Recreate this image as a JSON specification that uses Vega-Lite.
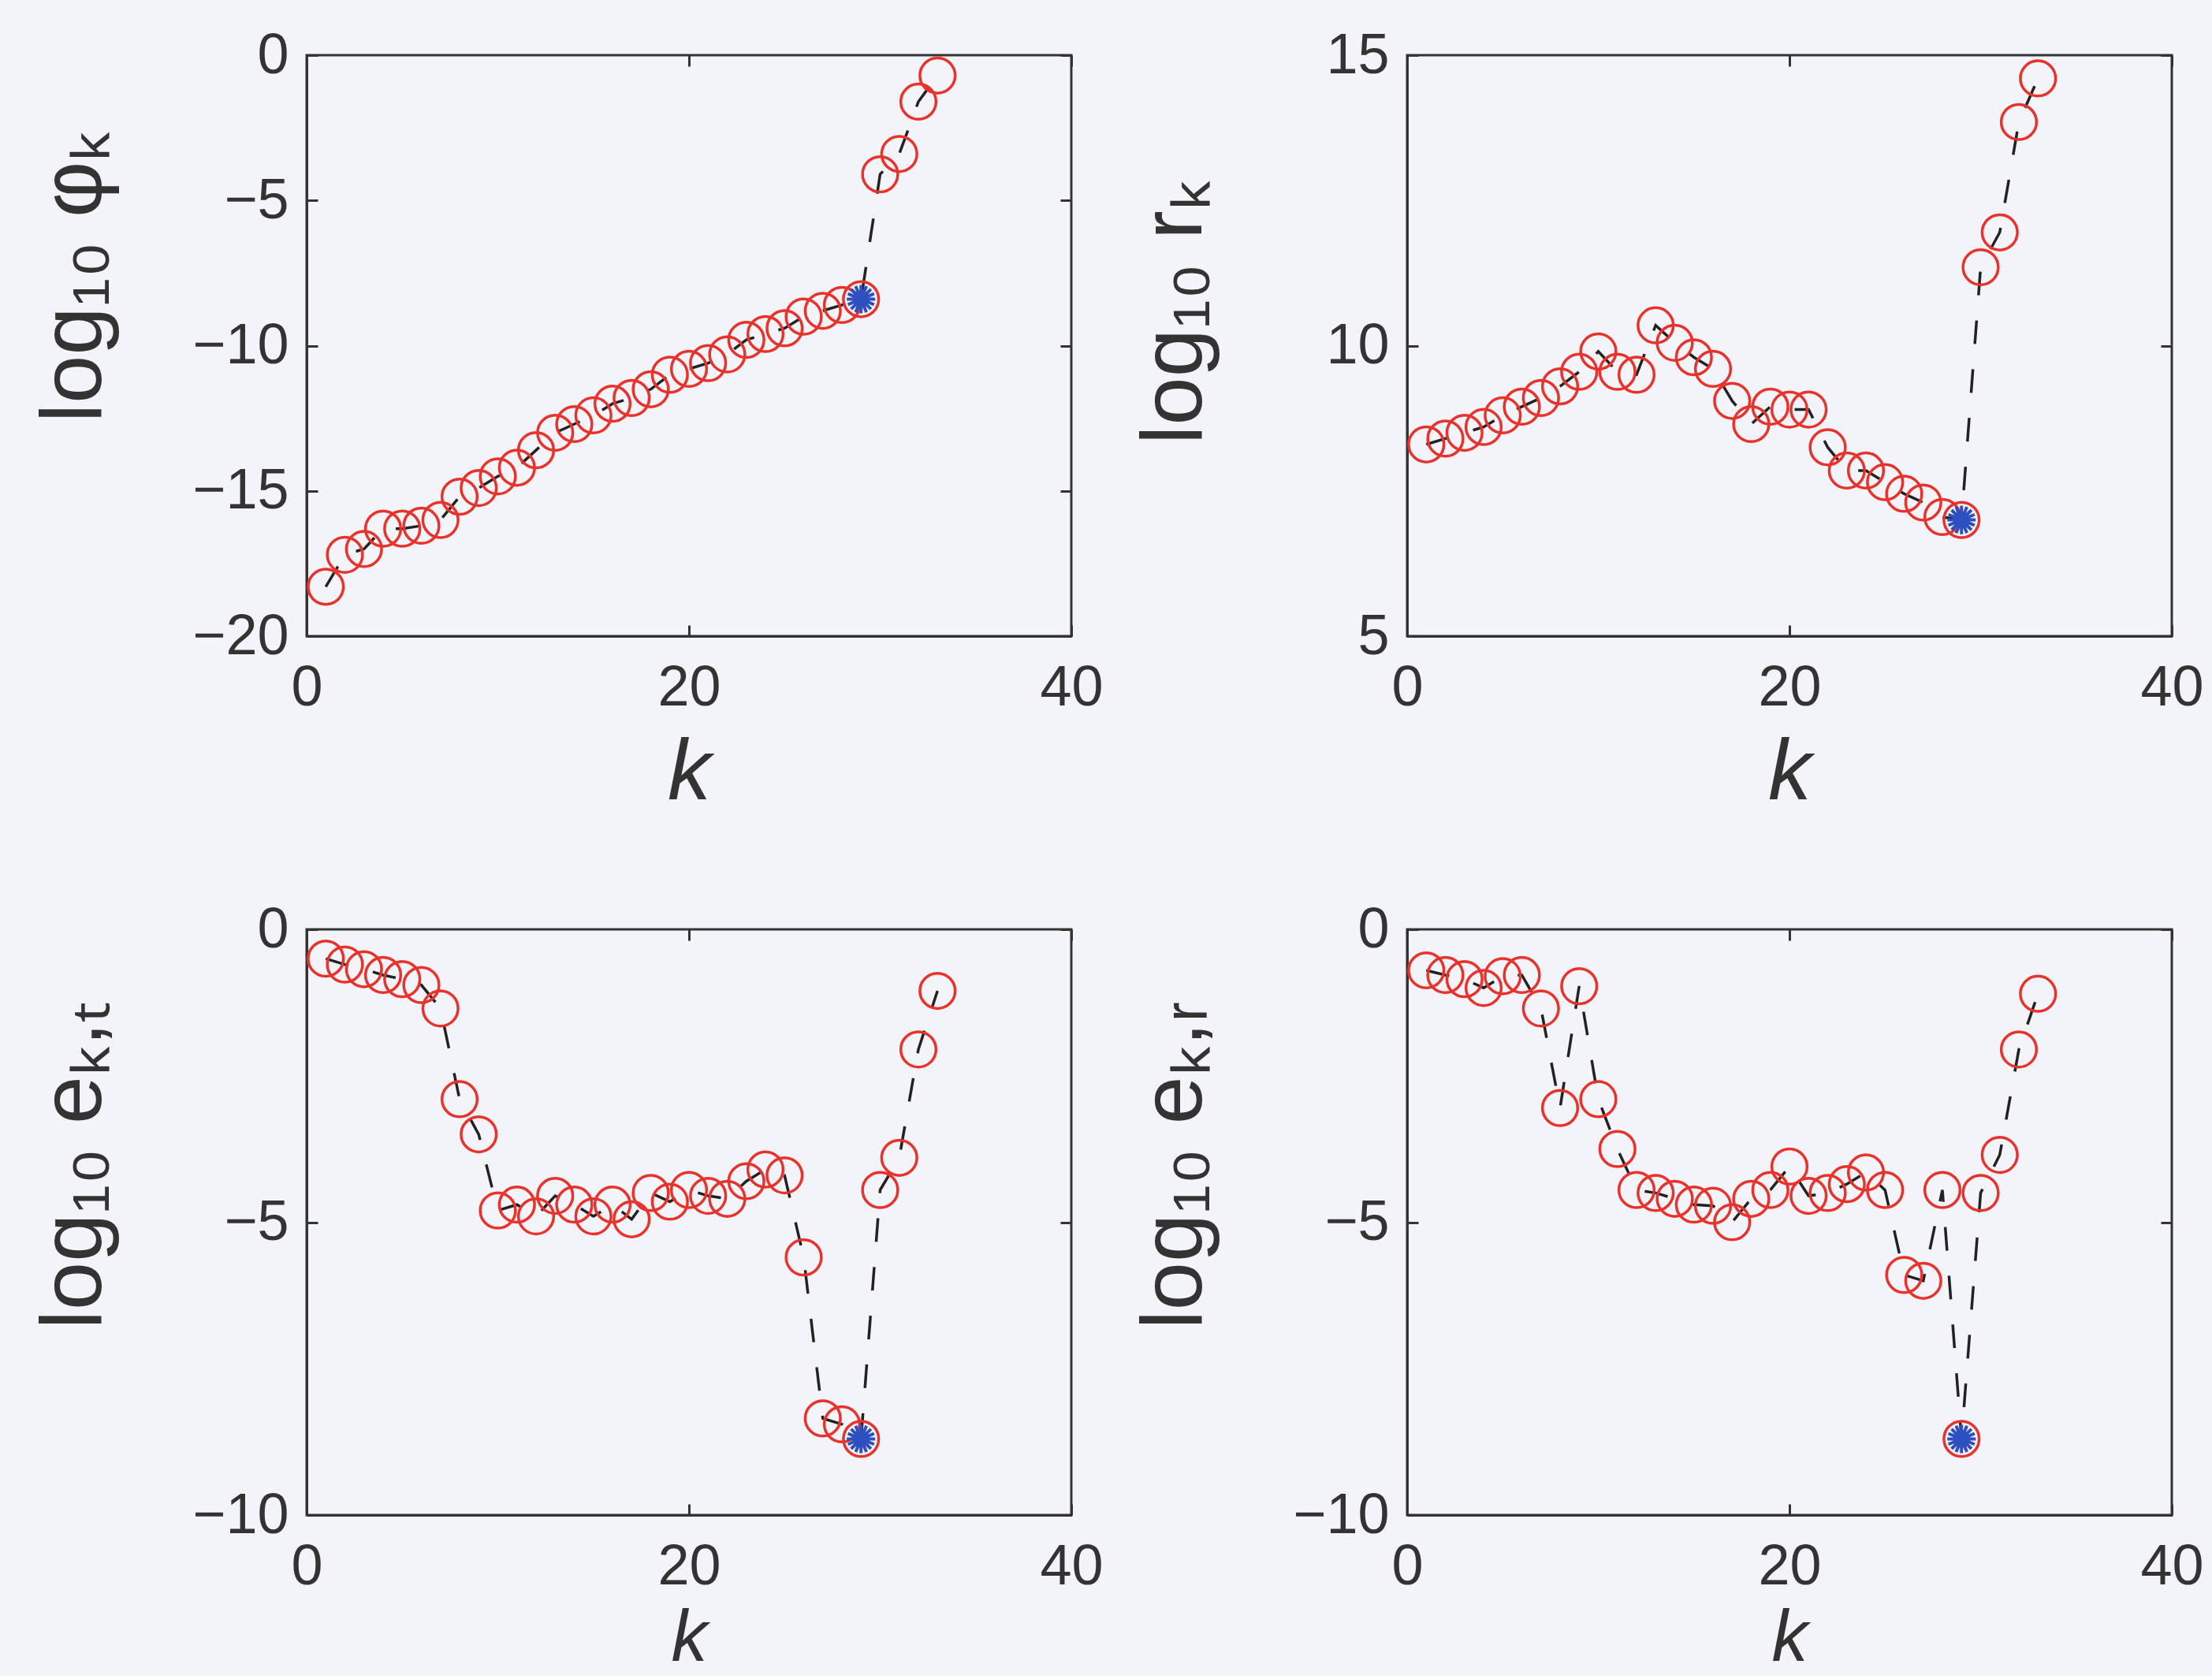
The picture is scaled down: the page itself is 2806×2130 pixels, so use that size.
{
  "$schema": "https://vega.github.io/schema/vega-lite/v6.json",
  "background": "#f3f4fa",
  "padding": {"left": 37, "top": 32, "right": 10, "bottom": 0},
  "datasets": {
    "phi": [
      {"k": 1, "v": -18.3}, {"k": 2, "v": -17.2}, {"k": 3, "v": -17.0}, {"k": 4, "v": -16.3}, {"k": 5, "v": -16.3},
      {"k": 6, "v": -16.2}, {"k": 7, "v": -16.0}, {"k": 8, "v": -15.2}, {"k": 9, "v": -14.9}, {"k": 10, "v": -14.5},
      {"k": 11, "v": -14.2}, {"k": 12, "v": -13.6}, {"k": 13, "v": -13.0}, {"k": 14, "v": -12.7}, {"k": 15, "v": -12.4},
      {"k": 16, "v": -12.0}, {"k": 17, "v": -11.8}, {"k": 18, "v": -11.5}, {"k": 19, "v": -11.0}, {"k": 20, "v": -10.8},
      {"k": 21, "v": -10.6}, {"k": 22, "v": -10.3}, {"k": 23, "v": -9.8}, {"k": 24, "v": -9.6}, {"k": 25, "v": -9.4},
      {"k": 26, "v": -9.0}, {"k": 27, "v": -8.8}, {"k": 28, "v": -8.6}, {"k": 29, "v": -8.4}, {"k": 30, "v": -4.1},
      {"k": 31, "v": -3.4}, {"k": 32, "v": -1.6}, {"k": 33, "v": -0.7}
    ],
    "r": [
      {"k": 1, "v": 8.3}, {"k": 2, "v": 8.4}, {"k": 3, "v": 8.5}, {"k": 4, "v": 8.6}, {"k": 5, "v": 8.8},
      {"k": 6, "v": 8.95}, {"k": 7, "v": 9.1}, {"k": 8, "v": 9.3}, {"k": 9, "v": 9.55}, {"k": 10, "v": 9.9},
      {"k": 11, "v": 9.55}, {"k": 12, "v": 9.5}, {"k": 13, "v": 10.35}, {"k": 14, "v": 10.05}, {"k": 15, "v": 9.8},
      {"k": 16, "v": 9.6}, {"k": 17, "v": 9.05}, {"k": 18, "v": 8.65}, {"k": 19, "v": 8.95}, {"k": 20, "v": 8.9},
      {"k": 21, "v": 8.9}, {"k": 22, "v": 8.25}, {"k": 23, "v": 7.85}, {"k": 24, "v": 7.85}, {"k": 25, "v": 7.65},
      {"k": 26, "v": 7.45}, {"k": 27, "v": 7.3}, {"k": 28, "v": 7.05}, {"k": 29, "v": 7.0}, {"k": 30, "v": 11.35},
      {"k": 31, "v": 11.95}, {"k": 32, "v": 13.85}, {"k": 33, "v": 14.6}
    ],
    "et": [
      {"k": 1, "v": -0.5}, {"k": 2, "v": -0.6}, {"k": 3, "v": -0.68}, {"k": 4, "v": -0.78}, {"k": 5, "v": -0.85},
      {"k": 6, "v": -0.95}, {"k": 7, "v": -1.35}, {"k": 8, "v": -2.9}, {"k": 9, "v": -3.5}, {"k": 10, "v": -4.8},
      {"k": 11, "v": -4.7}, {"k": 12, "v": -4.9}, {"k": 13, "v": -4.55}, {"k": 14, "v": -4.7}, {"k": 15, "v": -4.9},
      {"k": 16, "v": -4.7}, {"k": 17, "v": -4.95}, {"k": 18, "v": -4.5}, {"k": 19, "v": -4.65}, {"k": 20, "v": -4.45},
      {"k": 21, "v": -4.55}, {"k": 22, "v": -4.6}, {"k": 23, "v": -4.3}, {"k": 24, "v": -4.1}, {"k": 25, "v": -4.2},
      {"k": 26, "v": -5.6}, {"k": 27, "v": -8.35}, {"k": 28, "v": -8.45}, {"k": 29, "v": -8.7}, {"k": 30, "v": -4.45},
      {"k": 31, "v": -3.9}, {"k": 32, "v": -2.05}, {"k": 33, "v": -1.05}
    ],
    "er": [
      {"k": 1, "v": -0.7}, {"k": 2, "v": -0.78}, {"k": 3, "v": -0.85}, {"k": 4, "v": -1.0}, {"k": 5, "v": -0.8},
      {"k": 6, "v": -0.78}, {"k": 7, "v": -1.35}, {"k": 8, "v": -3.05}, {"k": 9, "v": -0.97}, {"k": 10, "v": -2.9},
      {"k": 11, "v": -3.75}, {"k": 12, "v": -4.45}, {"k": 13, "v": -4.5}, {"k": 14, "v": -4.6}, {"k": 15, "v": -4.7},
      {"k": 16, "v": -4.72}, {"k": 17, "v": -5.0}, {"k": 18, "v": -4.6}, {"k": 19, "v": -4.45}, {"k": 20, "v": -4.05},
      {"k": 21, "v": -4.55}, {"k": 22, "v": -4.5}, {"k": 23, "v": -4.35}, {"k": 24, "v": -4.15}, {"k": 25, "v": -4.45},
      {"k": 26, "v": -5.9}, {"k": 27, "v": -6.0}, {"k": 28, "v": -4.45}, {"k": 29, "v": -8.7}, {"k": 30, "v": -4.5},
      {"k": 31, "v": -3.85}, {"k": 32, "v": -2.05}, {"k": 33, "v": -1.1}
    ]
  },
  "columns": 2,
  "bounds": "flush",
  "spacing": {"row": 372, "column": 426},
  "concat": [
    {
      "data": {"name": "phi"},
      "width": 970, "height": 737,
      "layer": [
        {"mark": {"type": "line", "stroke": "#222222", "strokeWidth": 3.5, "strokeDash": [30, 32]},
         "encoding": {
           "x": {"field": "k", "type": "quantitative", "scale": {"domain": [0, 40], "nice": false},
                 "axis": {"orient": "bottom", "values": [0, 20, 40], "title": "k", "titleFontStyle": "italic", "titleY": 206, "titleBaseline": "alphabetic"}},
           "y": {"field": "v", "type": "quantitative", "scale": {"domain": [-20, 0], "nice": false, "zero": false},
                 "axis": {"orient": "left", "values": [-20, -15, -10, -5, 0], "title": "log₁₀ φₖ", "titleX": -262, "titleY": 281}}}},
        {"mark": {"type": "point", "shape": "circle", "filled": false, "stroke": "#e8322b", "strokeWidth": 3.5, "size": 2000, "opacity": 1},
         "encoding": {
           "x": {"field": "k", "type": "quantitative", "scale": {"domain": [0, 40], "nice": false},
                 "axis": {"orient": "top", "values": [0, 20, 40], "labels": false, "title": null, "domain": false}},
           "y": {"field": "v", "type": "quantitative", "scale": {"domain": [-20, 0], "nice": false, "zero": false},
                 "axis": {"orient": "right", "values": [-20, -15, -10, -5, 0], "labels": false, "title": null, "domain": false}}}},
        {"transform": [{"filter": "datum.k == 29"}],
         "mark": {"type": "point", "shape": "M-1,0L1,0M0,-1L0,1M-0.7,-0.7L0.7,0.7M-0.7,0.7L0.7,-0.7M-0.92,-0.38L0.92,0.38M-0.92,0.38L0.92,-0.38M-0.38,-0.92L0.38,0.92M-0.38,0.92L0.38,-0.92", "filled": false, "stroke": "#2d4fbf", "strokeWidth": 4, "size": 1300, "opacity": 1},
         "encoding": {
           "x": {"field": "k", "type": "quantitative", "scale": {"domain": [0, 40], "nice": false}, "axis": null},
           "y": {"field": "v", "type": "quantitative", "scale": {"domain": [-20, 0], "nice": false, "zero": false}, "axis": null}}}
      ],
      "resolve": {"axis": {"x": "independent", "y": "independent"}}
    },
    {
      "data": {"name": "r"},
      "width": 970, "height": 737,
      "layer": [
        {"mark": {"type": "line", "stroke": "#222222", "strokeWidth": 3.5, "strokeDash": [30, 32]},
         "encoding": {
           "x": {"field": "k", "type": "quantitative", "scale": {"domain": [0, 40], "nice": false},
                 "axis": {"orient": "bottom", "values": [0, 20, 40], "title": "k", "titleFontStyle": "italic", "titleY": 206, "titleBaseline": "alphabetic"}},
           "y": {"field": "v", "type": "quantitative", "scale": {"domain": [5, 15], "nice": false, "zero": false},
                 "axis": {"orient": "left", "values": [5, 10, 15], "title": "log₁₀ rₖ", "titleX": -262, "titleY": 326}}}},
        {"mark": {"type": "point", "shape": "circle", "filled": false, "stroke": "#e8322b", "strokeWidth": 3.5, "size": 2000, "opacity": 1},
         "encoding": {
           "x": {"field": "k", "type": "quantitative", "scale": {"domain": [0, 40], "nice": false},
                 "axis": {"orient": "top", "values": [0, 20, 40], "labels": false, "title": null, "domain": false}},
           "y": {"field": "v", "type": "quantitative", "scale": {"domain": [5, 15], "nice": false, "zero": false},
                 "axis": {"orient": "right", "values": [5, 10, 15], "labels": false, "title": null, "domain": false}}}},
        {"transform": [{"filter": "datum.k == 29"}],
         "mark": {"type": "point", "shape": "M-1,0L1,0M0,-1L0,1M-0.7,-0.7L0.7,0.7M-0.7,0.7L0.7,-0.7M-0.92,-0.38L0.92,0.38M-0.92,0.38L0.92,-0.38M-0.38,-0.92L0.38,0.92M-0.38,0.92L0.38,-0.92", "filled": false, "stroke": "#2d4fbf", "strokeWidth": 4, "size": 1300, "opacity": 1},
         "encoding": {
           "x": {"field": "k", "type": "quantitative", "scale": {"domain": [0, 40], "nice": false}, "axis": null},
           "y": {"field": "v", "type": "quantitative", "scale": {"domain": [5, 15], "nice": false, "zero": false}, "axis": null}}}
      ],
      "resolve": {"axis": {"x": "independent", "y": "independent"}}
    },
    {
      "data": {"name": "et"},
      "width": 970, "height": 743,
      "layer": [
        {"mark": {"type": "line", "stroke": "#222222", "strokeWidth": 3.5, "strokeDash": [30, 32]},
         "encoding": {
           "x": {"field": "k", "type": "quantitative", "scale": {"domain": [0, 40], "nice": false},
                 "axis": {"orient": "bottom", "values": [0, 20, 40], "title": "k", "titleFontStyle": "italic", "titleFontSize": 92, "titleY": 184, "titleBaseline": "alphabetic"}},
           "y": {"field": "v", "type": "quantitative", "scale": {"domain": [-10, 0], "nice": false, "zero": false},
                 "axis": {"orient": "left", "values": [-10, -5, 0], "title": "log₁₀ eₖ,ₜ", "titleX": -262, "titleY": 299}}}},
        {"mark": {"type": "point", "shape": "circle", "filled": false, "stroke": "#e8322b", "strokeWidth": 3.5, "size": 2000, "opacity": 1},
         "encoding": {
           "x": {"field": "k", "type": "quantitative", "scale": {"domain": [0, 40], "nice": false},
                 "axis": {"orient": "top", "values": [0, 20, 40], "labels": false, "title": null, "domain": false}},
           "y": {"field": "v", "type": "quantitative", "scale": {"domain": [-10, 0], "nice": false, "zero": false},
                 "axis": {"orient": "right", "values": [-10, -5, 0], "labels": false, "title": null, "domain": false}}}},
        {"transform": [{"filter": "datum.k == 29"}],
         "mark": {"type": "point", "shape": "M-1,0L1,0M0,-1L0,1M-0.7,-0.7L0.7,0.7M-0.7,0.7L0.7,-0.7M-0.92,-0.38L0.92,0.38M-0.92,0.38L0.92,-0.38M-0.38,-0.92L0.38,0.92M-0.38,0.92L0.38,-0.92", "filled": false, "stroke": "#2d4fbf", "strokeWidth": 4, "size": 1300, "opacity": 1},
         "encoding": {
           "x": {"field": "k", "type": "quantitative", "scale": {"domain": [0, 40], "nice": false}, "axis": null},
           "y": {"field": "v", "type": "quantitative", "scale": {"domain": [-10, 0], "nice": false, "zero": false}, "axis": null}}}
      ],
      "resolve": {"axis": {"x": "independent", "y": "independent"}}
    },
    {
      "data": {"name": "er"},
      "width": 970, "height": 743,
      "layer": [
        {"mark": {"type": "line", "stroke": "#222222", "strokeWidth": 3.5, "strokeDash": [30, 32]},
         "encoding": {
           "x": {"field": "k", "type": "quantitative", "scale": {"domain": [0, 40], "nice": false},
                 "axis": {"orient": "bottom", "values": [0, 20, 40], "title": "k", "titleFontStyle": "italic", "titleFontSize": 92, "titleY": 184, "titleBaseline": "alphabetic"}},
           "y": {"field": "v", "type": "quantitative", "scale": {"domain": [-10, 0], "nice": false, "zero": false},
                 "axis": {"orient": "left", "values": [-10, -5, 0], "title": "log₁₀ eₖ,ᵣ", "titleX": -262, "titleY": 299}}}},
        {"mark": {"type": "point", "shape": "circle", "filled": false, "stroke": "#e8322b", "strokeWidth": 3.5, "size": 2000, "opacity": 1},
         "encoding": {
           "x": {"field": "k", "type": "quantitative", "scale": {"domain": [0, 40], "nice": false},
                 "axis": {"orient": "top", "values": [0, 20, 40], "labels": false, "title": null, "domain": false}},
           "y": {"field": "v", "type": "quantitative", "scale": {"domain": [-10, 0], "nice": false, "zero": false},
                 "axis": {"orient": "right", "values": [-10, -5, 0], "labels": false, "title": null, "domain": false}}}},
        {"transform": [{"filter": "datum.k == 29"}],
         "mark": {"type": "point", "shape": "M-1,0L1,0M0,-1L0,1M-0.7,-0.7L0.7,0.7M-0.7,0.7L0.7,-0.7M-0.92,-0.38L0.92,0.38M-0.92,0.38L0.92,-0.38M-0.38,-0.92L0.38,0.92M-0.38,0.92L0.38,-0.92", "filled": false, "stroke": "#2d4fbf", "strokeWidth": 4, "size": 1300, "opacity": 1},
         "encoding": {
           "x": {"field": "k", "type": "quantitative", "scale": {"domain": [0, 40], "nice": false}, "axis": null},
           "y": {"field": "v", "type": "quantitative", "scale": {"domain": [-10, 0], "nice": false, "zero": false}, "axis": null}}}
      ],
      "resolve": {"axis": {"x": "independent", "y": "independent"}}
    }
  ],
  "config": {
    "view": {"stroke": "#333333", "strokeWidth": 3, "fill": null},
    "axis": {
      "grid": false,
      "domainColor": "#333333", "domainWidth": 3,
      "tickColor": "#333333", "tickWidth": 3, "tickSize": -14,
      "labelFont": "Liberation Sans", "labelFontSize": 72, "labelColor": "#333333",
      "labelFlush": false, "labelOverlap": false, "labelBound": false,
      "titleFont": "Liberation Sans", "titleFontSize": 110, "titleFontWeight": "normal", "titleColor": "#333333",
      "titleAngle": 0
    },
    "axisLeft": {"labelPadding": 37, "titleAngle": -90, "titleAlign": "center", "titleBaseline": "alphabetic"},
    "axisBottom": {"labelPadding": 44, "titleAlign": "center"}
  }
}
